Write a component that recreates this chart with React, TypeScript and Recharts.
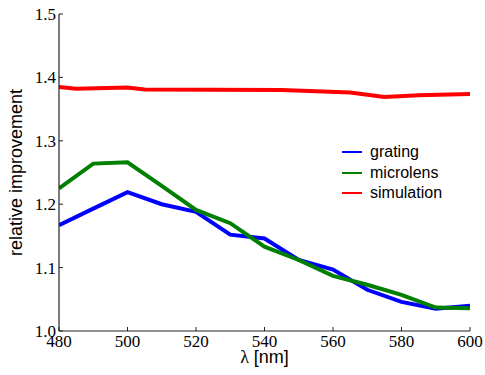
import React from 'react';
import { LineChart, Line, XAxis, YAxis, Legend, Label } from 'recharts';

const wavelengths = [480, 490, 500, 510, 520, 530, 540, 550, 560, 570, 580, 590, 600];
const grating = [1.167, 1.193, 1.219, 1.200, 1.188, 1.152, 1.146, 1.112, 1.097, 1.065, 1.046, 1.035, 1.040];
const microlens = [1.225, 1.264, 1.266, 1.229, 1.191, 1.170, 1.133, 1.112, 1.087, 1.073, 1.057, 1.037, 1.036];
const simulationX = [480, 485, 500, 505, 545, 565, 575, 585, 600];
const simulation = [1.385, 1.382, 1.384, 1.381, 1.380, 1.376, 1.369, 1.372, 1.374];

const xTicks = [480, 500, 520, 540, 560, 580, 600];
const yTicks = [1.0, 1.1, 1.2, 1.3, 1.4, 1.5];

const seriesNames = ['grating', 'microlens', 'simulation'];
const seriesColors = ['#0000ff', '#007f00', '#ff0000'];

const gratingData = wavelengths.map((w, i) => ({ x: w, y: grating[i] }));
const microlensData = wavelengths.map((w, i) => ({ x: w, y: microlens[i] }));
const simulationData = simulationX.map((w, i) => ({ x: w, y: simulation[i] }));

const FRAME = '#222';
const SERIF = "'Liberation Serif', 'DejaVu Serif', serif";
const SANS = "'Liberation Sans', Arial, sans-serif";

const serifStyle = { fontFamily: SERIF, fontSize: 17 };

const BottomTick = (p: any) => (
  <g>
    <line x1={p.x} x2={p.x} y1={p.y} y2={p.y - 4} stroke={FRAME} strokeWidth={1} />
    <text x={p.x} y={p.y + 16} textAnchor="middle" style={serifStyle} fill="#000">
      {p.payload.value}
    </text>
  </g>
);
const TopTick = (p: any) => (
  <line x1={p.x} x2={p.x} y1={p.y} y2={p.y + 4} stroke={FRAME} strokeWidth={1} />
);
const LeftTick = (p: any) => (
  <g>
    <line x1={p.x} x2={p.x + 4} y1={p.y} y2={p.y} stroke={FRAME} strokeWidth={1} />
    <text x={p.x - 3} y={p.y + 6} textAnchor="end" style={serifStyle} fill="#000">
      {Number(p.payload.value).toFixed(1)}
    </text>
  </g>
);
const RightTick = (p: any) => (
  <line x1={p.x} x2={p.x - 4} y1={p.y} y2={p.y} stroke={FRAME} strokeWidth={1} />
);

const LegendContent = () => (
  <div style={{ fontFamily: SANS, fontSize: 16, color: '#000' }}>
    {seriesNames.map((name, i) => (
      <div key={name} style={{ display: 'flex', alignItems: 'center', height: 20.5 }}>
        <div style={{ width: 20, height: 2, background: seriesColors[i], marginRight: 8 }} />
        <span>{name}</span>
      </div>
    ))}
  </div>
);

export default function App() {
  return (
    <div style={{ position: 'absolute', left: 0, top: 0, background: '#fff' }}>
      <LineChart width={485} height={375} margin={{ top: 14, right: 15, bottom: 0, left: 0 }}>
        <XAxis
          dataKey="x"
          type="number"
          domain={[480, 600]}
          ticks={xTicks}
          height={44}
          tickSize={0}
          tickMargin={0}
          tickLine={false}
          axisLine={{ stroke: FRAME, strokeWidth: 1.2 }}
          tick={<BottomTick />}
          allowDataOverflow
        >
          <Label
            content={(lp: any) => {
              const vb = lp.viewBox || {};
              const cx = vb.x + vb.width / 2;
              return (
                <text x={cx} y={vb.y + 32} textAnchor="middle" style={{ fontFamily: SANS, fontSize: 18 }} fill="#000">
                  <tspan style={{ fontFamily: SERIF }}>λ</tspan>
                  <tspan> [nm]</tspan>
                </text>
              );
            }}
          />
        </XAxis>
        <XAxis
          xAxisId="top"
          orientation="top"
          dataKey="x"
          type="number"
          domain={[480, 600]}
          ticks={xTicks}
          height={0}
          tickSize={0}
          tickMargin={0}
          tickLine={false}
          axisLine={{ stroke: FRAME, strokeWidth: 1.2 }}
          tick={<TopTick />}
          allowDataOverflow
        />
        <YAxis
          type="number"
          domain={[1.0, 1.5]}
          ticks={yTicks}
          width={59}
          tickSize={0}
          tickMargin={0}
          tickLine={false}
          axisLine={{ stroke: FRAME, strokeWidth: 1.2 }}
          tick={<LeftTick />}
          allowDataOverflow
        >
          <Label
            content={(lp: any) => {
              const vb = lp.viewBox || {};
              const cy = vb.y + vb.height / 2;
              const cx = 22;
              return (
                <text
                  x={cx}
                  y={cy}
                  textAnchor="middle"
                  style={{ fontFamily: SANS, fontSize: 18 }}
                  fill="#000"
                  transform={`rotate(-90, ${cx}, ${cy})`}
                >
                  relative improvement
                </text>
              );
            }}
          />
        </YAxis>
        <YAxis
          yAxisId="right"
          orientation="right"
          type="number"
          domain={[1.0, 1.5]}
          ticks={yTicks}
          width={0}
          tickSize={0}
          tickMargin={0}
          tickLine={false}
          axisLine={{ stroke: FRAME, strokeWidth: 1.2 }}
          tick={<RightTick />}
          allowDataOverflow
        />
        <Legend
          layout="vertical"
          verticalAlign="middle"
          align="center"
          content={<LegendContent />}
          wrapperStyle={{ position: 'absolute', left: 342, top: 142, width: 130 }}
        />
        <Line
          data={gratingData}
          dataKey="y"
          name={seriesNames[0]}
          stroke={seriesColors[0]}
          strokeWidth={4}
          dot={false}
          isAnimationActive={false}
        />
        <Line
          data={microlensData}
          dataKey="y"
          name={seriesNames[1]}
          stroke={seriesColors[1]}
          strokeWidth={4}
          dot={false}
          isAnimationActive={false}
        />
        <Line
          data={simulationData}
          dataKey="y"
          name={seriesNames[2]}
          stroke={seriesColors[2]}
          strokeWidth={4}
          dot={false}
          isAnimationActive={false}
        />
      </LineChart>
    </div>
  );
}
